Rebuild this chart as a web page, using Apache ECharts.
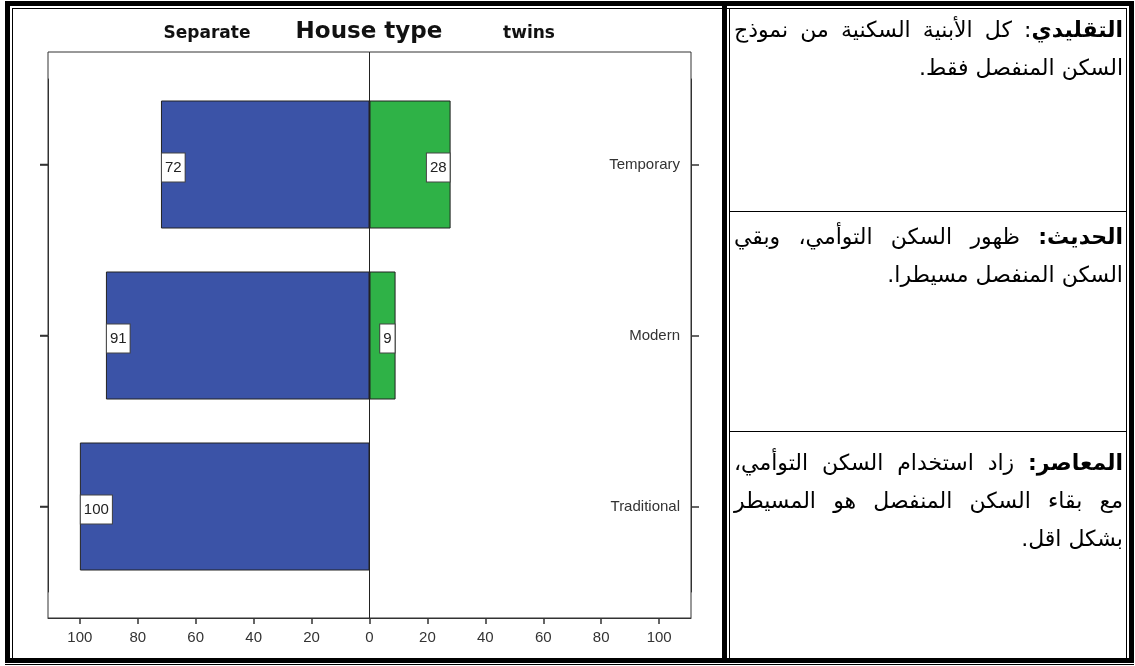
<!DOCTYPE html>
<html><head><meta charset="utf-8">
<script src="https://cdn.jsdelivr.net/npm/echarts@6/dist/echarts.min.js"></script>
<style>
html,body{margin:0;padding:0;background:#fff;}
#wrap{position:relative;width:1135px;height:666px;overflow:hidden;background:#fff;}
#chart{position:absolute;left:0;top:0;width:1135px;height:666px;}
.b{position:absolute;background:#000;}
.txt{position:absolute;left:734px;width:389px;direction:rtl;font-family:"DejaVu Sans",sans-serif;font-size:22px;line-height:38px;color:#000;}
.txt div{white-space:nowrap;}
.full{text-align:justify;text-align-last:justify;}
.last{text-align:right;}
</style></head>
<body>
<div id="wrap">
<div id="chart"></div>
<!-- table borders -->
<div class="b" style="left:5px;top:1px;width:1129px;height:5px"></div>
<div class="b" style="left:12px;top:8px;width:1115px;height:1px"></div>
<div class="b" style="left:5px;top:1px;width:5px;height:662px"></div>
<div class="b" style="left:12px;top:8px;width:1px;height:650px"></div>
<div class="b" style="left:5px;top:658px;width:1129px;height:5px"></div>
<div class="b" style="left:5px;top:664px;width:1129px;height:1px"></div>
<div class="b" style="left:722px;top:1px;width:5px;height:662px"></div>
<div class="b" style="left:729px;top:8px;width:1px;height:650px"></div>
<div class="b" style="left:1129px;top:1px;width:5px;height:662px"></div>
<div class="b" style="left:1126px;top:8px;width:1px;height:650px"></div>
<div class="b" style="left:729px;top:211px;width:398px;height:1px"></div>
<div class="b" style="left:729px;top:431px;width:398px;height:1px"></div>
<!-- notes -->
<div class="txt" style="top:11px">
<div class="full"><b>التقليدي</b>: كل الأبنية السكنية من نموذج</div>
<div class="last">السكن المنفصل فقط.</div>
</div>
<div class="txt" style="top:218px">
<div class="full"><b>الحديث:</b> ظهور السكن التوأمي، وبقي</div>
<div class="last">السكن المنفصل مسيطرا.</div>
</div>
<div class="txt" style="top:444px">
<div class="full"><b>المعاصر:</b> زاد استخدام السكن التوأمي،</div>
<div class="full">مع بقاء السكن المنفصل هو المسيطر</div>
<div class="last">بشكل اقل.</div>
</div>
</div>
<script>
// ---- data ----
const chartTitle = 'House type';
const seriesNames = ['Separate', 'twins'];
const categories = ['Traditional', 'Modern', 'Temporary'];
const separateValues = [100, 91, 72];
const twinsValues = [0, 9, 28];
const xTickValues = [-100, -80, -60, -40, -20, 0, 20, 40, 60, 80, 100];
const xMin = -111, xMax = 111;

const chart = echarts.init(document.getElementById('chart'), null, {renderer: 'canvas'});

const labelBox = {
  show: true,
  color: '#222',
  fontSize: 15,
  fontFamily: 'Liberation Sans, Arial, sans-serif',
  backgroundColor: '#fff',
  borderColor: '#444',
  borderWidth: 1,
  padding: [7, 3, 6, 3],
  distance: 1,
  offset: [0, 3],
  formatter: p => Math.abs(p.value)
};

const frame = {left: 48, top: 52, right: 691, bottom: 618};

const option = {
  animation: false,
  backgroundColor: '#fff',
  grid: {left: 48, right: 1135 - 691, top: 79, bottom: 666 - 592, containLabel: false},
  xAxis: {
    type: 'value', min: xMin, max: xMax, position: 'bottom', offset: 26,
    axisLine: {show: true, onZero: false, lineStyle: {color: '#333', width: 1}},
    axisTick: {show: true, customValues: xTickValues, length: 6, lineStyle: {color: '#333', width: 1.5}},
    axisLabel: {customValues: xTickValues, formatter: v => Math.abs(v), fontSize: 15, color: '#333', margin: 12,
      fontFamily: 'Liberation Sans, Arial, sans-serif'},
    splitLine: {show: false}
  },
  yAxis: [
    {type: 'category', data: categories, position: 'left',
      axisLine: {show: true, onZero: false, lineStyle: {color: '#333'}},
      axisTick: {show: true, interval: 0, alignWithLabel: true, inside: false, length: 8, lineStyle: {color: '#333', width: 1.5}},
      axisLabel: {show: true, interval: 0, color: 'rgba(0,0,0,0)', fontSize: 1}},
    {type: 'category', data: categories, position: 'right',
      axisLine: {show: true, onZero: false, lineStyle: {color: '#333'}},
      axisTick: {show: true, interval: 0, alignWithLabel: true, length: 8, lineStyle: {color: '#333', width: 1.5}},
      axisLabel: {inside: true, interval: 0, margin: 11, fontSize: 15, color: '#333', fontFamily: 'Liberation Sans, Arial, sans-serif'}}
  ],
  series: [
    {name: seriesNames[0], type: 'bar', yAxisIndex: 0, barWidth: 128, barGap: '-100%',
      data: separateValues.map(v => -v),
      itemStyle: {color: '#3b53a7', borderColor: '#222', borderWidth: 1},
      label: Object.assign({}, labelBox, {position: 'insideLeft'})},
    {name: seriesNames[1], type: 'bar', yAxisIndex: 0, barWidth: 128, barGap: '-100%',
      data: twinsValues.map(v => v > 0 ? v : {value: v, label: {show: false}, itemStyle: {borderWidth: 0}}),
      itemStyle: {color: '#2fb247', borderColor: '#222', borderWidth: 1},
      label: Object.assign({}, labelBox, {position: 'insideRight'})}
  ]
};
chart.setOption(option);

const zeroX = chart.convertToPixel({xAxisIndex: 0}, 0);
// left-side category ticks (drawn at the category centres given by the axis)
const leftTicks = categories.map(c => {
  const y = chart.convertToPixel({yAxisIndex: 0}, c);
  return {type: 'line', silent: true, z: 10,
    shape: {x1: frame.left - 8, y1: y, x2: frame.left, y2: y},
    style: {stroke: '#333', lineWidth: 1.5}};
});
chart.setOption({
  graphic: [
    {type: 'rect', silent: true, z: 10,
      shape: {x: frame.left, y: frame.top, width: frame.right - frame.left, height: frame.bottom - frame.top},
      style: {fill: null, stroke: '#333', lineWidth: 1}},
    {type: 'line', silent: true, z: 10,
      shape: {x1: zeroX, y1: frame.top, x2: zeroX, y2: frame.bottom},
      style: {stroke: '#222', lineWidth: 1}},
    {type: 'text', x: 207, y: 34, style: {text: seriesNames[0], font: 'bold 17px "DejaVu Sans"', fill: '#111', align: 'center', verticalAlign: 'middle'}},
    {type: 'text', x: 369, y: 32, style: {text: chartTitle, font: 'bold 23px "DejaVu Sans"', fill: '#111', align: 'center', verticalAlign: 'middle'}},
    {type: 'text', x: 529, y: 34, style: {text: seriesNames[1], font: 'bold 17px "DejaVu Sans"', fill: '#111', align: 'center', verticalAlign: 'middle'}}
  ].concat(leftTicks)
});
</script>
</body></html>
